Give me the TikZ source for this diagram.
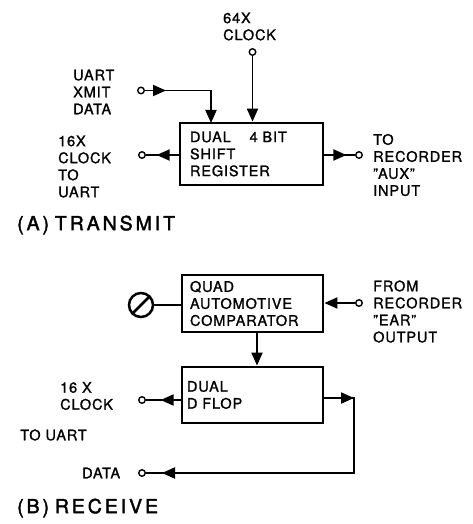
\documentclass[tikz,border=0pt]{standalone}
\usepackage{fontspec}
\setmainfont{TeX Gyre Heros}[LetterSpace=6, FakeBold=1.3]
\usetikzlibrary{arrows.meta}
\tikzset{
  lbl/.style={align=left, inner sep=0pt, font=\fontsize{14.5}{17}\selectfont},
  head/.style={inner sep=0pt, font=\fontsize{19.5}{21}\selectfont\addfontfeatures{LetterSpace=15, FakeBold=2}},
  blk/.style={draw, line width=2.8pt, align=left, inner ysep=0pt, font=\fontsize{14.5}{17}\selectfont},
  term/.style={circle, draw, line width=1.4pt, minimum size=6.5pt, inner sep=0pt, fill=white},
  wire/.style={line width=1.9pt},
  endtip/.style={-{Triangle[length=13pt,width=11pt]}},
}
\begin{document}
\begin{tikzpicture}[x=1pt,y=-1pt]
\useasboundingbox (0,0) rectangle (473,524);
% ---------- (A) transmit ----------
\node[blk, text width=123pt, inner xsep=10pt, minimum height=62pt] (box1) at (251.5,154) {DUAL\hspace{1.3em}4 BIT\\SHIFT\\REGISTER};
\node[term] (c64) at (252.5,52) {};
\node[term] (cx) at (141,90.5) {};
\node[term] (c16) at (142,155) {};
\node[term] (cr) at (359,155) {};
\coordinate (bx) at (211,123);
\node[lbl, anchor=west] (l64) at (223,26.5) {64X\\CLOCK};
\node[lbl, anchor=west] (lx) at (73,92) {UART\\XMIT\\DATA};
\node[lbl, anchor=west] (l16) at (58,166.5) {16X\\CLOCK\\TO\\UART};
\node[lbl, anchor=west] (lr) at (373,165) {TO\\RECORDER\\"AUX"\\INPUT};
\node[head, anchor=west] (ha) at (17,225) {(A)\hspace{0.3em}TRANSMIT};
\draw[wire, endtip] (c64) -- (c64 |- box1.north);
\draw[wire, endtip] (cx) -| (bx);
\draw[wire, endtip] (cx) -- ++(25,0);
\draw[wire] (box1.west |- c16) -- (c16);
\draw[wire, endtip] (box1.west |- c16) -- ++(-22,0);
\draw[wire] (box1.east |- cr) -- (cr);
\draw[wire, endtip] (box1.east |- cr) -- ++(22,0);
% ---------- (B) receive ----------
\node[blk, text width=125pt, inner xsep=8pt, minimum height=57pt] (box2) at (252.5,303.5) {QUAD\\AUTOMOTIVE\\COMPARATOR};
\node[blk, text width=131pt, inner xsep=5pt, minimum height=56pt] (box3) at (252.5,395) {DUAL\\D FLOP};
\node[circle, draw, line width=2.5pt, minimum size=24pt, inner sep=0pt] (pot) at (141,305) {};
\draw[line width=2.5pt] (pot.225) -- (pot.45);
\node[term] (cf) at (359,303) {};
\node[term] (c16b) at (142,400) {};
\node[term] (cdata) at (142,473) {};
\coordinate (corner) at (354,398);
\node[lbl, anchor=west] (lf) at (373,311.5) {FROM\\RECORDER\\"EAR"\\OUTPUT};
\node[lbl, anchor=west] (l16b) at (60,396) {16 X\\CLOCK};
\node[lbl, anchor=west] (lu) at (20,435) {TO UART};
\node[lbl, anchor=west] (ld) at (82,473) {DATA};
\node[head, anchor=west] (hb) at (17,508) {(B)\hspace{0.3em}RECEIVE};
\draw[wire] (pot) -- (pot -| box2.west);
\draw[wire, endtip] (cf) -- (cf -| box2.east);
\draw[wire, endtip] ([xshift=4.5pt]box2.south) -- ([xshift=4.5pt]box3.north);
\draw[wire] (box3.west |- c16b) -- (c16b);
\draw[wire, endtip] (box3.west |- c16b) -- ++(-20,0);
\draw[wire] (box3.east |- corner) -- (corner) |- (cdata);
\draw[wire, endtip] (box3.east |- corner) -- (corner);
\draw[wire, endtip] (cdata -| corner) -- (cdata -| 162,0);
\end{tikzpicture}
\end{document}
